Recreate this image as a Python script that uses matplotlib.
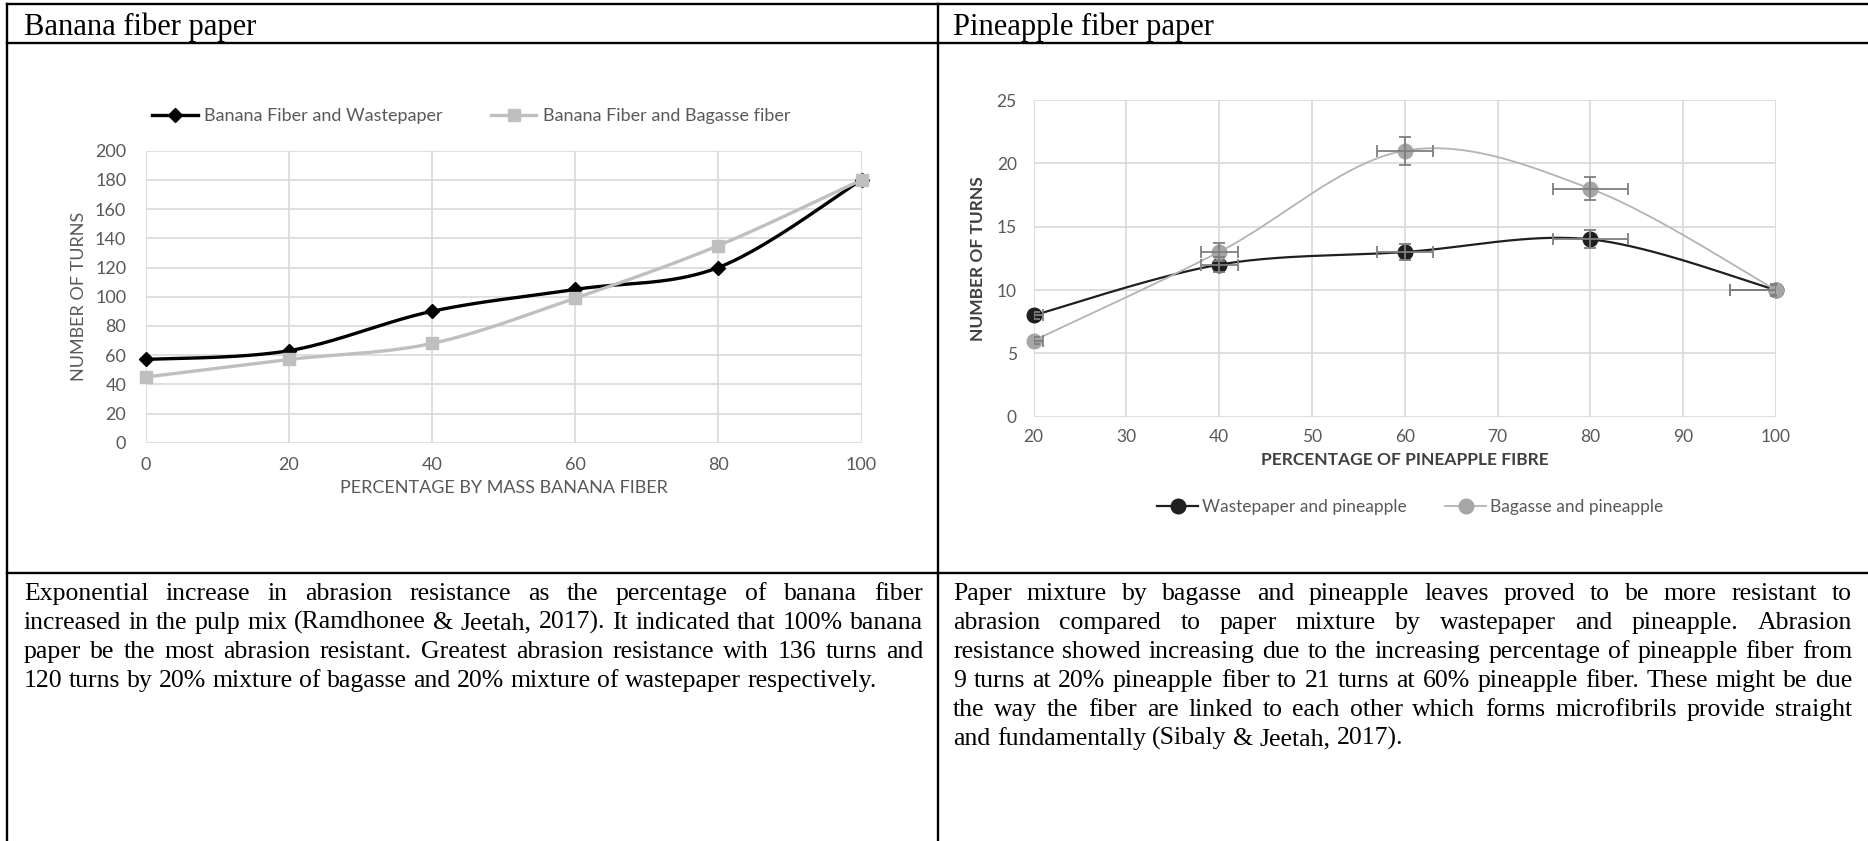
import numpy as np
import matplotlib
matplotlib.use("Agg")
from matplotlib import pyplot as plt
from matplotlib.lines import Line2D

FIG_W, FIG_H = 1868, 841

# banana fiber paper
banana_pct = [0, 20, 40, 60, 80, 100]
banana_waste = [57, 63, 90, 105, 120, 180]
banana_bagasse = [45, 57, 68, 99, 135, 180]
banana_labels = ["Banana Fiber and Wastepaper", "Banana Fiber and Bagasse fiber"]

# pineapple fiber paper
pine_pct = [20, 40, 60, 80, 100]
pine_waste = [8, 12, 13, 14, 10]
pine_bagasse = [6, 13, 21, 18, 10]
pine_waste_yerr = [0.3, 0.6, 0.65, 0.7, 0.4]
pine_bagasse_yerr = [0.3, 0.7, 1.1, 0.9, 0.45]
pine_xerr = [1, 2, 3, 4, 5]
pine_labels = ["Wastepaper and pineapple", "Bagasse and pineapple"]

headers = ["Banana fiber paper", "Pineapple fiber paper"]
left_text = [
    "Exponential increase in abrasion resistance as the percentage of banana fiber",
    "increased in the pulp mix (Ramdhonee & Jeetah, 2017). It indicated that 100% banana",
    "paper be the most abrasion resistant. Greatest abrasion resistance with 136 turns and",
    "120 turns by 20% mixture of bagasse and 20% mixture of wastepaper respectively.",
]
right_text = [
    "Paper mixture by bagasse and pineapple leaves proved to be more resistant to",
    "abrasion compared to paper mixture by wastepaper and pineapple. Abrasion",
    "resistance showed increasing due to the increasing percentage of pineapple fiber from",
    "9 turns at 20% pineapple fiber to 21 turns at 60% pineapple fiber. These might be due",
    "the way the fiber are linked to each other which forms microfibrils provide straight",
    "and fundamentally (Sibaly & Jeetah, 2017).",
]

SANS = ["Lato", "DejaVu Sans"]
SERIF = ["Liberation Serif", "DejaVu Serif"]
GRID = "#d9d9d9"
TICK = "#595959"


def px_axes(fig, x0, x1, ytop, ybot):
    return fig.add_axes([x0 / FIG_W, 1 - ybot / FIG_H, (x1 - x0) / FIG_W, (ybot - ytop) / FIG_H])


def smooth(ax, xs, ys, n=40):
    # excel style smoothed line (bezier / catmull-rom in screen space)
    pos = ax.get_position()
    xa, xb = ax.get_xlim()
    ya, yb = ax.get_ylim()
    sx = pos.width * FIG_W / (xb - xa)
    sy = pos.height * FIG_H / (yb - ya)
    p = np.column_stack([np.asarray(xs, float) * sx, np.asarray(ys, float) * sy])
    p = np.vstack([p[0], p, p[-1]])
    t = np.linspace(0, 1, n)[:, None]
    out = []
    for i in range(1, len(p) - 2):
        p0, p1, p2, p3 = p[i - 1], p[i], p[i + 1], p[i + 2]
        c1 = p1 + (p2 - p0) / 6
        c2 = p2 - (p3 - p1) / 6
        seg = (1 - t) ** 3 * p1 + 3 * (1 - t) ** 2 * t * c1 + 3 * (1 - t) * t ** 2 * c2 + t ** 3 * p2
        out.append(seg if i == 1 else seg[1:])
    out = np.vstack(out)
    return out[:, 0] / sx, out[:, 1] / sy


def style_axes(ax, xticks, yticks, fs, xpad, ypad):
    ax.set_xticks(xticks)
    ax.set_yticks(yticks)
    ax.grid(True, color=GRID, lw=1.2)
    ax.set_axisbelow(True)
    for s in ax.spines.values():
        s.set_visible(False)
    ax.tick_params(axis="x", length=0, pad=xpad, labelsize=fs, labelcolor=TICK)
    ax.tick_params(axis="y", length=0, pad=ypad, labelsize=fs, labelcolor=TICK)
    for lab in ax.get_xticklabels() + ax.get_yticklabels():
        lab.set_family(SANS)


fig = plt.figure(figsize=(FIG_W / 100, FIG_H / 100), dpi=100)

# background for the table
bg = fig.add_axes([0, 0, 1, 1])
bg.set_xlim(0, FIG_W)
bg.set_ylim(FIG_H, 0)
bg.axis("off")
bk = dict(color="black", lw=1.7, solid_capstyle="projecting")
bg.plot([7, FIG_W], [4, 4], **bk)
bg.plot([7, FIG_W], [43, 43], **bk)
bg.plot([7, FIG_W], [573, 573], **bk)
bg.plot([7, 7], [4, FIG_H], **bk)
bg.plot([938, 938], [4, FIG_H], **bk)

bg.text(24, 35, headers[0], fontsize=22, family=SERIF, va="baseline")
bg.text(953, 35, headers[1], fontsize=22, family=SERIF, va="baseline")

# justified paragraphs
renderer = fig.canvas.get_renderer()


def width_of(s, fs):
    t = bg.text(0, 0, s, fontsize=fs, family=SERIF)
    w = t.get_window_extent(renderer).width
    t.remove()
    return w


avail = 899
fs_body = 18 * avail / max(width_of(left_text[1], 18), width_of(right_text[2], 18))
fs_body = min(fs_body, 18.5)


def paragraph(lines, x0, y0, dy, fs):
    space = fs * 100 / 72 * 0.25
    for i, line in enumerate(lines):
        words = line.split(" ")
        y = y0 + i * dy
        objs = [bg.text(0, y, w, fontsize=fs, family=SERIF, va="baseline") for w in words]
        widths = [o.get_window_extent(renderer).width for o in objs]
        if i == len(lines) - 1:
            gap = space
        else:
            gap = (avail - sum(widths)) / (len(words) - 1)
        x = x0
        for o, w in zip(objs, widths):
            o.set_x(x)
            x += w + gap


paragraph(left_text, 24, 600, 29, fs_body)
paragraph(right_text, 953, 600, 29, fs_body)

# left chart
ax1 = px_axes(fig, 145.7, 861.5, 150.7, 442.7)
ax1.set_xlim(0, 100)
ax1.set_ylim(0, 200)
style_axes(ax1, banana_pct, np.arange(0, 201, 20), 13, 10, 14)
for ys, col, mk, ms in [(banana_waste, "black", "D", 7), (banana_bagasse, "#bfbfbf", "s", 9)]:
    sx, sy = smooth(ax1, banana_pct, ys)
    ax1.plot(sx, sy, color=col, lw=2.4, clip_on=False, zorder=3)
    ax1.plot(banana_pct, ys, ls="none", marker=mk, ms=ms, color=col, clip_on=False, zorder=4)
h1 = [
    Line2D([], [], color="black", lw=2.4, marker="D", ms=7),
    Line2D([], [], color="#bfbfbf", lw=2.4, marker="s", ms=9),
]
ax1.legend(h1, banana_labels, ncol=2, loc="center", bbox_to_anchor=(0.455, 1.118),
           frameon=False, handlelength=2.5, handletextpad=0.35, columnspacing=2.7,
           prop={"family": SANS, "size": 13}, labelcolor=TICK)
ax1.set_xlabel("PERCENTAGE BY MASS BANANA FIBER", family=SANS, fontsize=13, color=TICK, va="center")
ax1.xaxis.set_label_coords(0.5, -0.155)
ax1.set_ylabel("NUMBER OF TURNS", family=SANS, fontsize=13, color=TICK, va="center")
ax1.yaxis.set_label_coords(-0.093, 0.5)

# right chart
ax2 = px_axes(fig, 1033.5, 1776, 100, 416.7)
ax2.set_xlim(20, 100)
ax2.set_ylim(0, 25)
style_axes(ax2, np.arange(20, 101, 10), np.arange(0, 26, 5), 12.5, 9, 12)
series = [
    (pine_waste, pine_waste_yerr, "#1f1f1f", "#1f1f1f", 1.6),
    (pine_bagasse, pine_bagasse_yerr, "#b3b3b3", "#a6a6a6", 1.3),
]
for ys, yerr, lc, mc, lw in series:
    sx, sy = smooth(ax2, pine_pct, ys)
    ax2.plot(sx, sy, color=lc, lw=lw, clip_on=False, zorder=3)
    ax2.plot(pine_pct, ys, ls="none", marker="o", ms=10.5, color=mc, clip_on=False, zorder=4)
    ax2.errorbar(pine_pct, ys, xerr=pine_xerr, yerr=yerr, fmt="none", ecolor="#7f7f7f",
                 elinewidth=1.3, capsize=4, capthick=1.3, zorder=5)
h2 = [
    Line2D([], [], color="#1f1f1f", lw=1.6, marker="o", ms=10.5),
    Line2D([], [], color="#b3b3b3", lw=1.3, marker="o", ms=10.5, markerfacecolor="#a6a6a6",
           markeredgecolor="#a6a6a6"),
]
ax2.legend(h2, pine_labels, ncol=2, loc="center", bbox_to_anchor=(0.507, -0.285),
           frameon=False, handlelength=2.4, handletextpad=0.2, columnspacing=2.2,
           prop={"family": SANS, "size": 12.5}, labelcolor=TICK)
ax2.set_xlabel("PERCENTAGE OF PINEAPPLE FIBRE", family=SANS, fontsize=12.5, color="#404040",
               fontweight="bold", va="center")
ax2.xaxis.set_label_coords(0.5, -0.137)
ax2.set_ylabel("NUMBER OF TURNS", family=SANS, fontsize=12.5, color="#404040",
               fontweight="bold", va="center")
ax2.yaxis.set_label_coords(-0.075, 0.5)

fig.savefig("out.png", dpi=100)
